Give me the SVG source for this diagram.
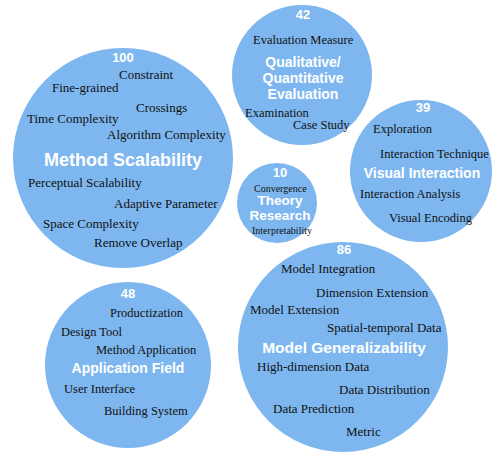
<svg xmlns="http://www.w3.org/2000/svg" width="493" height="453" viewBox="0 0 493 453">
<style>
.c{fill:#7eb7ef}
.t{font-family:"Liberation Serif","Times New Roman",serif;font-size:12.5px;fill:#111}
.b{font-size:13px}
.s{font-size:10px}
.h{font-family:"Liberation Sans",Arial,sans-serif;font-weight:bold;fill:#fff;text-anchor:middle}
.n{font-family:"Liberation Sans",Arial,sans-serif;font-weight:bold;fill:#fff;text-anchor:middle;font-size:13px}
</style>
<rect width="493" height="453" fill="#fff"/>
<g id="connectors"/>
<g id="method-scalability">
<circle class="c" cx="123" cy="158" r="110"/>
<text class="n" x="123" y="62">100</text>
<text class="t b" x="119" y="79">Constraint</text>
<text class="t b" x="52" y="92">Fine-grained</text>
<text class="t b" x="136" y="112">Crossings</text>
<text class="t b" x="27" y="123">Time Complexity</text>
<text class="t b" x="107" y="139">Algorithm Complexity</text>
<text class="h" x="123" y="166" font-size="18">Method Scalability</text>
<text class="t b" x="28" y="187">Perceptual Scalability</text>
<text class="t b" x="114" y="208">Adaptive Parameter</text>
<text class="t b" x="43" y="228">Space Complexity</text>
<text class="t b" x="94" y="247">Remove Overlap</text>
</g>
<g id="qualitative-evaluation">
<circle class="c" cx="302" cy="75" r="70"/>
<text class="n" x="303" y="19">42</text>
<text class="t" x="253" y="44">Evaluation Measure</text>
<text class="h" x="303" y="67" font-size="14">Qualitative/</text>
<text class="h" x="303" y="83" font-size="14">Quantitative</text>
<text class="h" x="303" y="99" font-size="14">Evaluation</text>
<text class="t" x="245" y="117">Examination</text>
<text class="t" x="293" y="129">Case Study</text>
</g>
<g id="visual-interaction">
<circle class="c" cx="421" cy="171" r="71"/>
<text class="n" x="423" y="112">39</text>
<text class="t" x="373" y="133">Exploration</text>
<text class="t" x="380" y="158">Interaction Technique</text>
<text class="h" x="422" y="178" font-size="14">Visual Interaction</text>
<text class="t" x="360" y="198">Interaction Analysis</text>
<text class="t" x="389" y="222">Visual Encoding</text>
</g>
<g id="theory-research">
<circle class="c" cx="277" cy="203" r="40"/>
<text class="n" x="280" y="177">10</text>
<text class="t s" x="254" y="192">Convergence</text>
<text class="h" x="280" y="205" font-size="13.5">Theory</text>
<text class="h" x="280" y="220" font-size="13.5">Research</text>
<text class="t s" x="252" y="234">Interpretability</text>
</g>
<g id="application-field">
<circle class="c" cx="128" cy="365" r="83"/>
<text class="n" x="128" y="298">48</text>
<text class="t" x="110" y="317">Productization</text>
<text class="t" x="61" y="336">Design Tool</text>
<text class="t" x="96" y="354">Method Application</text>
<text class="h" x="128" y="373" font-size="14">Application Field</text>
<text class="t" x="64" y="393">User Interface</text>
<text class="t" x="104" y="415">Building System</text>
</g>
<g id="model-generalizability">
<circle class="c" cx="343" cy="347" r="105"/>
<text class="n" x="344" y="254">86</text>
<text class="t b" x="281" y="273">Model Integration</text>
<text class="t b" x="316" y="297">Dimension Extension</text>
<text class="t b" x="250" y="314">Model Extension</text>
<text class="t b" x="327" y="332">Spatial-temporal Data</text>
<text class="h" x="344" y="353" font-size="15.5">Model Generalizability</text>
<text class="t b" x="257" y="371">High-dimension Data</text>
<text class="t b" x="339" y="394">Data Distribution</text>
<text class="t b" x="273" y="413">Data Prediction</text>
<text class="t b" x="346" y="436">Metric</text>
</g>
</svg>
